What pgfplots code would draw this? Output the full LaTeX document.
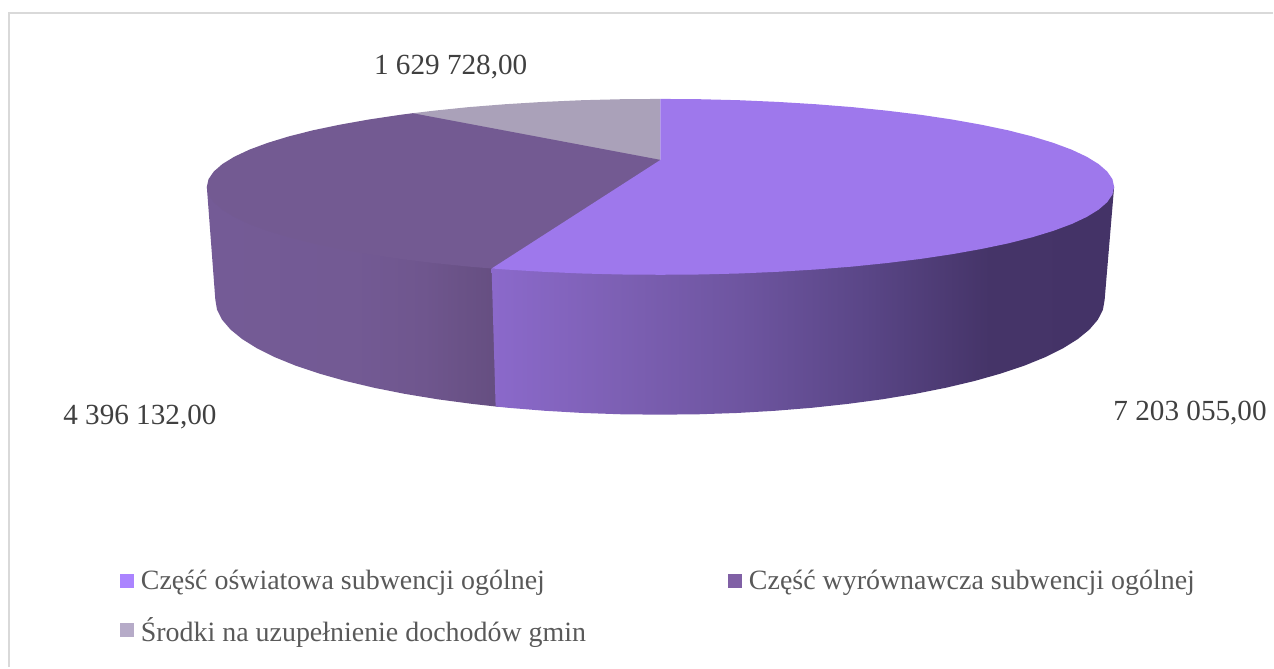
\documentclass[border=0pt]{standalone}
\usepackage{fontspec}
\setmainfont{Liberation Serif}
\usepackage{pgfplots}
\pgfplotsset{compat=1.18}
\definecolor{topLight}{RGB}{158,120,236}
\definecolor{topDark}{RGB}{115,90,146}
\definecolor{topGrey}{RGB}{170,161,185}
\definecolor{keyLight}{RGB}{171,132,255}
\definecolor{keyDark}{RGB}{128,96,165}
\definecolor{keyGrey}{RGB}{182,171,200}
\definecolor{labelText}{RGB}{64,64,64}
\definecolor{legendText}{RGB}{89,89,89}
\definecolor{frameLine}{RGB}{217,217,217}
% horizontal wall gradients; a shaded path's width spans 25bp to 75bp
\definecolor{wa}{RGB}{139,105,203}
\definecolor{wb}{RGB}{125,96,180}
\definecolor{wc}{RGB}{110,85,160}
\definecolor{wd}{RGB}{90,70,135}
\definecolor{we}{RGB}{69,52,104}
\definecolor{wf}{RGB}{68,51,103}
\pgfdeclarehorizontalshading{wallLightShade}{100bp}{
  color(0bp)=(wa); color(25bp)=(wa); color(35bp)=(wb); color(45bp)=(wc);
  color(55bp)=(wd); color(65bp)=(we); color(75bp)=(wf); color(100bp)=(wf)}
\definecolor{da}{RGB}{116,91,150}
\definecolor{db}{RGB}{115,90,148}
\definecolor{dc}{RGB}{111,86,142}
\definecolor{dd}{RGB}{101,78,128}
\pgfdeclarehorizontalshading{wallDarkShade}{100bp}{
  color(0bp)=(da); color(25bp)=(da); color(50bp)=(db); color(62bp)=(dc);
  color(75bp)=(dd); color(100bp)=(dd)}
\pgfplotsset{
  legend square/.style={
    legend image code/.code={
      \fill[##1, draw=none] (0pt,-7pt) rectangle (14pt,7pt);}},
}
\begin{document}
\begin{tikzpicture}
\begin{axis}[
  scale only axis, width=1274pt, height=668pt,
  xmin=0, xmax=1274, ymin=0, ymax=668, y dir=reverse,
  hide axis, clip=false,
  legend columns=2,
  legend cell align=left,
  legend style={
    at={(axis cs:120,571)}, anchor=north west,
    draw=none, fill=none, inner sep=0pt, outer sep=0pt,
    text=legendText,
    font=\fontsize{27.95}{31}\selectfont,
    /tikz/every odd column/.append style={column sep=7pt},
    /tikz/every even column/.append style={column sep=142pt},
    row sep=25.7pt,
    nodes={inner sep=0pt, outer sep=0pt},
  },
]
% page extent
\path (axis cs:0,0) rectangle (axis cs:1274,668);

% frame: top and left edges only
\addplot[frameLine, line width=2pt, forget plot] coordinates {(1274,13) (9,13) (9,668)};

% outer wall of the second slice
\addplot[draw=none, shade, shading=wallDarkShade, forget plot] coordinates {
(207,187) (215.5,300) (217.2,310) (222.3,320) (230.7,329.8) (242.3,339.3)
(257.2,348.6) (275.1,357.5) (296,366) (319.6,373.9) (345.8,381.3)
(374.5,388.1) (405.2,394.2) (438,399.6) (472.4,404.2) (496,406.8) (500,407.3)
(496,268.7)} -- cycle;

% outer wall of the larger slice
\addplot[draw=none, shade, shading=wallLightShade, forget plot] coordinates {
(1115,187) (1105.5,300) (1103.8,310) (1098.7,320) (1090.3,329.8) (1078.7,339.3)
(1063.8,348.6) (1045.9,357.5) (1025,366) (1001.4,373.9) (975.2,381.3)
(946.5,388.1) (915.8,394.2) (883,399.6) (848.6,404.2) (812.7,408.1)
(775.7,411.1) (737.8,413.3) (699.3,414.6) (660.5,415) (621.7,414.6)
(583.2,413.3) (545.3,411.1) (508.3,408.1) (496,406.8) (492,268.7)} -- cycle;

% top face of the smallest slice
\addplot[draw=none, fill=topGrey, forget plot] coordinates {
(661,170) (413,116) (413,113.3) (434,110.8) (469.1,107.2) (505.7,104.3)
(543.5,102) (582.2,100.3) (621.4,99.3) (661,99)} -- cycle;

% top face of the second slice
\addplot[draw=none, fill=topDark, forget plot] coordinates {
(661,160) (665,160) (495,268.5) (492,268.7) (469.1,266.8) (434,263.2)
(400.6,259.1) (369.2,254.4) (340,249.2) (313.2,243.6) (289.1,237.5)
(267.8,231) (249.5,224.2) (234.4,217.1) (222.5,209.8) (213.9,202.3)
(208.7,194.7) (207,187) (208.7,179.3) (213.9,171.7) (222.5,164.2)
(234.4,156.9) (249.5,149.8) (267.8,143) (289.1,136.5) (313.2,130.4)
(340,124.8) (369.2,119.6) (400.6,114.9) (413,113.3)} -- cycle;

% top face of the larger slice
\addplot[draw=none, fill=topLight, forget plot] coordinates {
(661,160) (661,99) (700.6,99.3) (739.8,100.3) (778.5,102) (816.3,104.3)
(852.9,107.2) (888,110.8) (921.4,114.9) (952.8,119.6) (982,124.8)
(1008.8,130.4) (1032.9,136.5) (1054.2,143) (1072.5,149.8) (1087.6,156.9)
(1099.5,164.2) (1108.1,171.7) (1113.3,179.3) (1115,187) (1113.3,194.7)
(1108.1,202.3) (1099.5,209.8) (1087.6,217.1) (1072.5,224.2) (1054.2,231)
(1032.9,237.5) (1008.8,243.6) (982,249.2) (952.8,254.4) (921.4,259.1)
(888,263.2) (852.9,266.8) (816.3,269.7) (778.5,272) (739.8,273.7)
(700.6,274.7) (661,275) (621.4,274.7) (582.2,273.7) (543.5,272)
(505.7,269.7) (492,268.7)} -- cycle;

% value labels
\node[text=labelText, font=\fontsize{29.2}{32}\selectfont, anchor=base] at (axis cs:451,75) {1 629 728,00};
\node[text=labelText, font=\fontsize{29.2}{32}\selectfont, anchor=base] at (axis cs:1191,421) {7 203 055,00};
\node[text=labelText, font=\fontsize{29.2}{32}\selectfont, anchor=base] at (axis cs:140,425) {4 396 132,00};

\addlegendimage{legend square, fill=keyLight}
\addlegendentry{Część oświatowa subwencji ogólnej}
\addlegendimage{legend square, fill=keyDark}
\addlegendentry{Część wyrównawcza subwencji ogólnej}
\addlegendimage{legend square, fill=keyGrey}
\addlegendentry{Środki na uzupełnienie dochodów gmin}
\end{axis}
\end{tikzpicture}
\end{document}
